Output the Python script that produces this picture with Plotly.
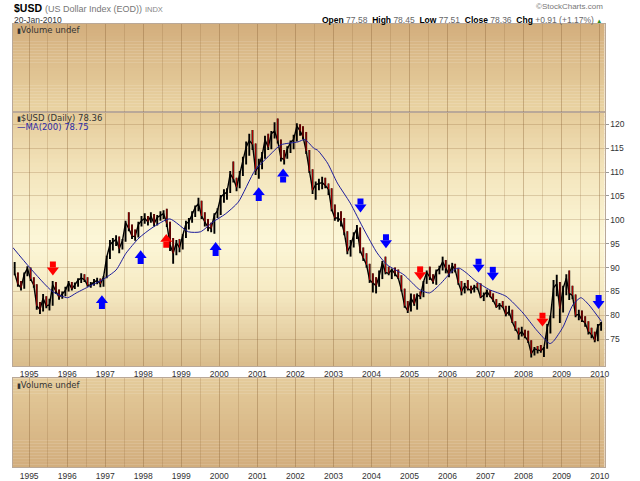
import pandas as pd
import plotly.graph_objects as go

# $USD monthly bars (Aug 1994 .. Jan 2010)
high = [
    91.2, 89.0, 87.2, 89.0, 90.3,                                            # 1994 Aug-Dec
    90.0, 88.0, 86.5, 82.8, 84.5, 84.0, 83.5, 87.2, 87.0, 85.4, 85.0, 86.0,  # 1995
    87.2, 87.0, 86.9, 87.8, 88.8, 88.6, 88.0, 87.0, 87.6, 87.9, 87.7, 88.2,  # 1996
    92.5, 95.8, 96.2, 96.8, 96.5, 96.0, 99.8, 101.6, 99.0, 98.0, 99.6, 100.8,  # 1997
    101.4, 100.8, 101.6, 101.2, 101.0, 101.8, 102.0, 102.3, 99.6, 96.2, 95.8, 96.0,  # 1998
    97.0, 99.8, 100.4, 101.8, 103.0, 104.6, 104.0, 101.6, 100.2, 99.4, 101.4, 102.4,  # 1999
    105.2, 106.4, 106.6, 110.2, 112.2, 108.8, 110.2, 113.2, 116.4, 118.0, 118.8, 116.0,  # 2000
    112.8, 114.2, 117.6, 118.0, 118.6, 120.4, 121.2, 116.8, 114.6, 115.4, 116.6, 117.8,  # 2001
    120.2, 120.0, 119.6, 118.4, 114.6, 110.6, 108.0, 108.6, 109.0, 108.8, 107.6, 106.6,  # 2002
    103.2, 101.6, 101.8, 100.4, 97.6, 95.8, 97.4, 98.9, 98.4, 94.2, 93.0, 90.8,  # 2003
    88.8, 88.0, 89.4, 91.4, 92.3, 90.2, 89.8, 90.0, 89.6, 88.4, 85.6, 83.0,  # 2004
    84.6, 84.4, 84.6, 85.0, 87.2, 89.4, 90.2, 88.6, 89.6, 90.4, 92.3, 91.6,  # 2005
    90.6, 91.0, 90.8, 89.8, 87.2, 86.8, 87.4, 86.2, 86.4, 86.8, 86.7, 84.8,  # 2006
    85.4, 85.3, 84.6, 83.4, 82.6, 83.0, 82.0, 82.0, 81.2, 78.8, 77.4, 77.6,  # 2007
    77.0, 76.8, 74.8, 73.4, 73.6, 73.8, 73.4, 78.2, 80.0, 87.4, 88.5, 87.0,  # 2008
    86.2, 88.6, 89.4, 86.2, 84.4, 81.2, 81.0, 79.8, 78.8, 77.4, 76.6, 78.2,  # 2009
    78.6,                                                                    # 2010 Jan
]
low = [
    88.4, 86.0, 85.2, 85.6, 88.2,
    87.2, 85.8, 81.2, 80.3, 80.8, 81.5, 81.0, 82.0, 84.5, 83.3, 83.5, 84.0,
    85.0, 85.2, 85.5, 86.0, 86.8, 87.0, 86.0, 85.8, 86.2, 86.5, 85.9, 86.0,
    87.8, 91.8, 93.6, 94.5, 93.0, 93.8, 95.4, 97.6, 96.0, 95.6, 96.3, 98.6,
    99.2, 98.8, 99.4, 98.6, 98.8, 99.8, 100.2, 98.5, 93.5, 90.8, 92.6, 93.2,
    93.8, 96.2, 98.0, 99.4, 100.6, 101.8, 100.2, 98.6, 97.6, 97.4, 97.1, 100.4,
    101.0, 103.6, 104.2, 105.6, 107.8, 106.0, 106.6, 109.2, 111.6, 113.4, 114.6, 109.4,
    108.6, 110.6, 112.8, 114.6, 114.8, 117.0, 116.0, 112.2, 111.6, 112.8, 114.0, 114.8,
    116.4, 117.6, 116.8, 113.8, 109.8, 105.4, 104.2, 106.2, 106.4, 106.6, 105.2, 101.8,
    99.8, 99.6, 98.6, 96.8, 92.8, 92.3, 94.2, 96.0, 93.0, 91.4, 90.0, 86.8,
    84.8, 84.6, 86.0, 87.6, 88.6, 88.4, 87.6, 88.2, 87.6, 85.0, 81.6, 80.5,
    80.8, 82.0, 81.2, 83.4, 83.8, 86.6, 87.4, 86.6, 86.4, 88.6, 89.4, 88.8,
    88.0, 88.8, 89.0, 86.4, 84.2, 84.6, 85.2, 84.6, 84.8, 85.4, 83.6, 83.0,
    83.8, 83.8, 82.8, 81.6, 81.2, 81.6, 79.8, 80.0, 78.4, 76.8, 74.9, 75.6,
    75.2, 74.2, 71.2, 71.6, 72.0, 72.2, 71.3, 73.0, 76.2, 79.4, 84.0, 78.4,
    80.6, 84.2, 83.2, 83.4, 79.6, 79.0, 78.6, 77.6, 76.0, 75.2, 74.4, 74.6,
    76.8,
]
close = [
    88.8, 86.5, 85.8, 88.6, 89.8,
    87.6, 86.3, 82.0, 81.2, 83.6, 82.0, 82.2, 86.4, 85.0, 83.8, 84.5, 85.2,
    86.8, 85.6, 86.4, 87.4, 87.8, 87.5, 86.3, 86.4, 87.0, 87.3, 86.6, 88.0,
    92.2, 94.8, 95.4, 95.9, 94.0, 95.6, 99.4, 98.2, 96.6, 96.5, 99.0, 99.8,
    100.3, 99.6, 100.8, 99.2, 100.5, 100.9, 101.3, 99.2, 94.8, 93.0, 95.2, 94.2,
    96.6, 99.2, 99.6, 101.2, 102.6, 103.4, 100.8, 99.6, 98.4, 98.2, 101.0, 101.9,
    104.8, 105.4, 105.8, 109.6, 108.6, 106.8, 109.6, 112.8, 115.2, 116.6, 115.8, 110.2,
    111.4, 113.4, 116.8, 115.2, 118.0, 118.6, 116.6, 113.0, 112.6, 114.8, 116.2, 116.8,
    119.6, 118.6, 117.4, 114.4, 110.2, 106.2, 107.4, 107.6, 107.8, 107.2, 106.4, 102.2,
    100.4, 100.4, 99.8, 97.4, 93.4, 94.6, 96.8, 98.2, 93.6, 92.0, 90.6, 87.4,
    86.8, 86.2, 88.2, 91.0, 89.0, 88.8, 89.6, 88.8, 87.8, 85.4, 82.0, 81.0,
    83.6, 82.4, 84.2, 84.0, 87.0, 89.0, 88.0, 87.0, 89.2, 89.8, 91.2, 89.8,
    88.6, 90.4, 89.6, 86.8, 85.0, 86.2, 85.6, 85.2, 86.0, 85.8, 83.8, 84.2,
    85.0, 84.0, 83.2, 81.8, 82.2, 81.8, 80.2, 80.8, 78.6, 77.2, 76.0, 76.6,
    75.6, 74.6, 72.0, 73.0, 72.8, 72.6, 73.2, 77.4, 79.6, 85.8, 86.6, 81.4,
    85.6, 87.8, 84.6, 84.2, 80.0, 80.2, 79.0, 78.4, 76.6, 76.0, 74.8, 77.8,
    78.36,
]
months = pd.date_range("1994-08-01", periods=len(close), freq="MS") + pd.Timedelta(days=14)
assert len(high) == len(low) == len(close)

# 200 day moving average
ma_dates = ["1994-07-29", "1995-01-07", "1995-08-13", "1996-01-04", "1996-03-29", "1996-08-29",
            "1996-12-02", "1997-04-15", "1997-07-19", "1997-11-21", "1998-03-25", "1998-09-12",
            "1999-03-11", "1999-07-05", "1999-11-04", "2000-02-27", "2000-07-01", "2000-12-10",
            "2001-04-13", "2001-08-15", "2002-01-24", "2002-04-02", "2002-07-01", "2002-08-01",
            "2002-11-05", "2003-02-08", "2003-06-12", "2003-10-23", "2004-02-24", "2004-05-30",
            "2004-11-08", "2005-04-07", "2005-07-12", "2005-10-16", "2006-02-27", "2006-04-23",
            "2006-07-01", "2006-10-04", "2007-02-06", "2007-07-17", "2007-12-27", "2008-05-02",
            "2008-09-10", "2008-10-15", "2009-01-15", "2009-04-19", "2009-07-05", "2009-09-20",
            "2010-01-20"]
ma_vals = [94.2, 90.0, 85.0, 83.7, 84.7, 86.4,
           87.4, 89.5, 93.0, 96.2, 98.3, 100.2,
           97.5, 97.5, 99.6, 101.2, 103.7, 110.4,
           113.2, 115.7, 116.3, 116.8, 114.9, 114.6,
           111.9, 107.7, 103.5, 97.9, 93.1, 90.6,
           88.5, 85.4, 84.7, 86.4, 89.5, 89.9,
           88.9, 87.1, 85.4, 84.0, 80.5, 77.0,
           74.1, 74.6, 77.6, 82.2, 83.7, 82.2,
           78.7]

# signal arrows drawn on the chart
arrow_dates = ["1995-08-17", "1996-11-30", "1997-12-07", "1998-08-10", "1999-11-27", "2001-01-14",
               "2001-09-05", "2003-09-18", "2004-05-20", "2005-04-13", "2006-10-26", "2007-03-12",
               "2008-07-01", "2009-12-22"]
arrow_prices = [89.9, 82.7, 92.1, 95.5, 93.8, 105.3,
                109.2, 103.1, 95.6, 88.9, 90.5, 88.8,
                79.2, 82.9]
arrow_dirs = ["down", "up", "up", "up", "up", "up",
              "up", "down", "down", "down", "down", "down",
              "down", "down"]
arrow_colors = ["red", "blue", "blue", "red", "blue", "blue",
                "blue", "blue", "blue", "red", "blue", "blue",
                "red", "blue"]

y_ticks = [75, 80, 85, 90, 95, 100, 105, 110, 115, 120]

X_RANGE = ["1994-07-29", "2010-02-17"]
Y_RANGE = [69.41, 122.57]
PRICE_PX = 254  # height of the price panel in pixels
PPX = (Y_RANGE[1] - Y_RANGE[0]) / PRICE_PX

BORDER = "#b9a898"
GRID_MAJOR = "rgba(140,100,55,0.38)"
GRID_MINOR = "rgba(140,100,55,0.22)"
GRID_H = "rgba(140,100,55,0.25)"

fig = go.Figure()


def gradient(ax, stops, n=40):
    # fake a vertical gradient with thin strips, stops: (pos from top, rgb)
    for i in range(n):
        t = (i + 0.5) / n
        for (p0, c0), (p1, c1) in zip(stops[:-1], stops[1:]):
            if p0 <= t <= p1:
                f = (t - p0) / (p1 - p0)
                rgb = [round(a + (b - a) * f) for a, b in zip(c0, c1)]
                break
        fig.add_shape(type="rect", xref=f"x{ax} domain", yref=f"y{ax} domain",
                      x0=0, x1=1, y0=max(0, 1 - (i + 1) / n - 0.003), y1=1 - i / n,
                      fillcolor="rgb(%d,%d,%d)" % tuple(rgb), line_width=0, layer="below")


gradient("2", [(0, (211, 174, 125)), (1, (234, 212, 163))], 30)
gradient("", [(0, (229, 203, 154)), (0.25, (244, 230, 190)), (0.5, (252, 247, 216)),
              (0.7, (246, 234, 196)), (1, (217, 188, 139))], 60)
gradient("3", [(0, (228, 203, 155)), (1, (210, 173, 124))], 30)

# price bars: black high-low bars plus a close line, red on down months
bar_x, bar_y, red_x, red_y = [], [], [], []
for i, d in enumerate(months):
    bar_x += [d, d, None]
    bar_y += [low[i], high[i], None]
    if i > 0 and close[i] < close[i - 1]:
        red_x += [d, d, None]
        red_y += [close[i], high[i], None]

fig.add_trace(go.Scatter(x=months, y=close, mode="lines",
                         line=dict(color="black", width=1.4), hoverinfo="skip"))
fig.add_trace(go.Scatter(x=bar_x, y=bar_y, mode="lines",
                         line=dict(color="black", width=1.9), hoverinfo="skip"))
fig.add_trace(go.Scatter(x=red_x, y=red_y, mode="lines",
                         line=dict(color="#e00000", width=0.8), hoverinfo="skip"))
fig.add_trace(go.Scatter(x=ma_dates, y=ma_vals, mode="lines",
                         line=dict(color="#1c1c9c", width=1, shape="spline", smoothing=0.6),
                         hoverinfo="skip"))

# block arrows = square shaft + triangle head
for col, hexcol in [("red", "#ff0000"), ("blue", "#0000ff")]:
    sx, sy, hx, hy, hs = [], [], [], [], []
    for d, p, dr, c in zip(arrow_dates, arrow_prices, arrow_dirs, arrow_colors):
        if c != col:
            continue
        sign = 1 if dr == "down" else -1
        sx.append(d)
        sy.append(p + sign * 3.5 * PPX)
        hx.append(d)
        hy.append(p - sign * 2.1 * PPX)
        hs.append("triangle-down" if dr == "down" else "triangle-up")
    fig.add_trace(go.Scatter(x=sx, y=sy, mode="markers", hoverinfo="skip",
                             marker=dict(symbol="square", size=6, color=hexcol, line_width=0)))
    fig.add_trace(go.Scatter(x=hx, y=hy, mode="markers", hoverinfo="skip",
                             marker=dict(symbol=hs, size=10.5, color=hexcol, line_width=0)))

# empty "Volume undef" panels still need a trace to be drawn
for ax in ["2", "3"]:
    fig.add_trace(go.Scatter(x=[X_RANGE[0]], y=[-1], mode="markers", xaxis="x" + ax,
                             yaxis="y" + ax, marker_opacity=0, hoverinfo="skip"))

XDOM = [13 / 640, 609.3 / 640]
tickfont = dict(family="Liberation Sans, Arial", size=8.5, color="#333")
xcommon = dict(type="date", range=X_RANGE, domain=XDOM, dtick="M12", tick0="1995-01-01",
               tickformat="%Y", showgrid=True, gridcolor=GRID_MAJOR, gridwidth=1,
               minor=dict(dtick="M6", tick0="1995-07-01", showgrid=True, gridcolor=GRID_MINOR),
               showline=True, mirror=True, linecolor=BORDER, linewidth=1, zeroline=False,
               ticks="", tickfont=tickfont, fixedrange=True)

fig.update_layout(
    width=640, height=481, autosize=False,
    margin=dict(l=0, r=0, t=0, b=0),
    paper_bgcolor="white", plot_bgcolor="white",
    showlegend=False,
    xaxis=dict(xcommon, anchor="y"),
    xaxis2=dict(xcommon, anchor="y2", showticklabels=False),
    xaxis3=dict(xcommon, anchor="y3"),
    yaxis=dict(domain=[1 - 366 / 481, 1 - 112 / 481], range=Y_RANGE, side="right",
               tickvals=y_ticks, ticks="outside", ticklen=3, tickcolor="#999",
               showgrid=True, gridcolor=GRID_H, showline=True, mirror=True,
               linecolor=BORDER, zeroline=False, tickfont=tickfont, fixedrange=True),
    yaxis2=dict(domain=[1 - 112 / 481, 1 - 24 / 481], range=[0, 1], showticklabels=False,
                showgrid=False, showline=True, mirror=True, linecolor=BORDER,
                zeroline=False, fixedrange=True),
    yaxis3=dict(domain=[1 - 467.3 / 481, 1 - 378.3 / 481], range=[0, 1], showticklabels=False,
                showgrid=False, showline=True, mirror=True, linecolor=BORDER,
                zeroline=False, fixedrange=True),
)

hdr = "Liberation Sans, Arial"
panel = "DejaVu Sans"


def note(text, x, y, font, xanchor="left"):
    fig.add_annotation(text=text, x=x / 640, y=1 - y / 481, xref="paper", yref="paper",
                       xanchor=xanchor, yanchor="middle", showarrow=False, font=font)


note("<b>$USD</b> <span style='color:#777;font-size:9px'>(US Dollar Index (EOD))</span>"
     " <span style='color:#888;font-size:7.5px'>INDX</span>",
     12, 7.5, dict(family=hdr, size=10.5, color="black"))
note("20-Jan-2010", 12, 19.5, dict(family=hdr, size=8.5, color="#333"))
note("©StockCharts.com", 610, 6, dict(family=hdr, size=8, color="#777"), "right")
note("<b>Open</b> <span style='color:#666'>77.58</span>  <b>High</b> "
     "<span style='color:#666'>78.45</span>  <b>Low</b> <span style='color:#666'>77.51</span>"
     "  <b>Close</b> <span style='color:#666'>78.36</span>  <b>Chg</b> "
     "<span style='color:#666'>+0.91 (+1.17%)</span> <span style='color:#1a8a1a;font-size:6px'>▲</span>",
     609, 19.5, dict(family=hdr, size=8.5, color="black"), "right")

note("<span style='font-size:7px'>▮</span>Volume undef", 15, 30.5, dict(family=panel, size=8.5, color="#333"))
note("<span style='font-size:7px'>▮</span>$USD (Daily) 78.36", 15, 117.5,
     dict(family=panel, size=8.5, color="#333"))
note("<span style='color:#1c1c9c'>—</span>MA(200) 78.75", 15, 126.5,
     dict(family=panel, size=8.5, color="#2a2aa8"))
note("<span style='font-size:7px'>▮</span>Volume undef", 15, 384.5, dict(family=panel, size=8.5, color="#333"))

# browser default body margin would shift the chart by 8px; no modebar over the header
fig.write_html("out.html", config={"displayModeBar": False},
               post_script="document.body.style.margin='0';")
